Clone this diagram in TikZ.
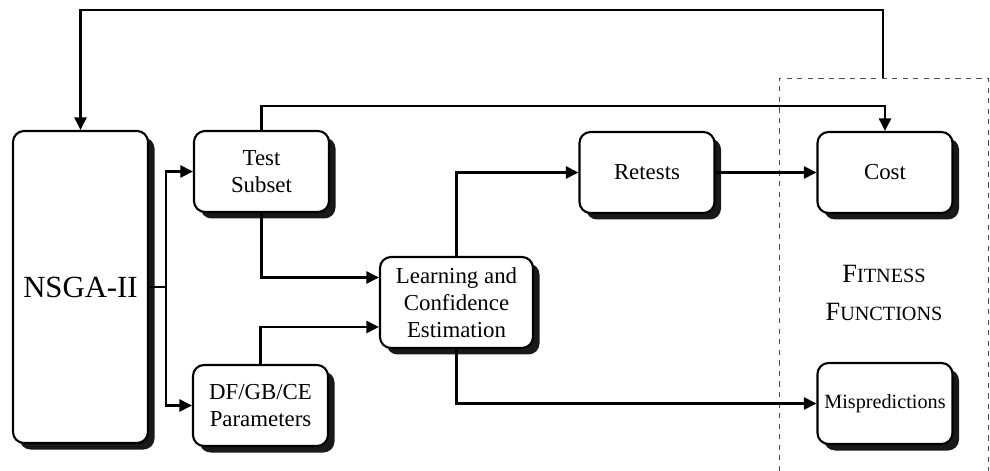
\documentclass[tikz,border=0pt]{standalone}
\usepackage{fontspec}
\setmainfont{Liberation Serif}
\usepackage{tikz}
\usetikzlibrary{arrows.meta,shadows}

\begin{document}
\begin{tikzpicture}[
    blk/.style={draw, line width=1.2pt, rounded corners=0.22cm, fill=white, align=center,
        minimum width=2.7cm, minimum height=1.62cm, inner sep=1pt,
        font=\fontsize{13}{15.5}\selectfont,
        drop shadow={shadow xshift=0.13cm, shadow yshift=-0.13cm, fill=black!90, opacity=1}},
    link/.style={line width=1.3pt},
    arr/.style={link, -{Triangle[length=0.25cm,width=0.24cm]}}
]
    \useasboundingbox (0,0) rectangle (19.8,-9.42);
    \node[blk, minimum height=6.24cm, font=\fontsize{17.5}{21}\selectfont] (nsga) at (1.61,-5.74) {NSGA-II};
    \node[blk] (test) at (5.23,-3.43) {Test\\Subset};
    \node[blk] (param) at (5.21,-8.11) {DF/GB/CE\\Parameters};
    \node[blk, minimum width=3.06cm, minimum height=1.82cm] (learn) at (9.13,-6.05) {Learning and\\Confidence\\Estimation};
    \node[blk] (retest) at (12.94,-3.45) {Retests};
    \node[blk] (cost) at (17.7,-3.45) {Cost};
    \node[blk, font=\fontsize{11.5}{13}\selectfont] (mispred) at (17.7,-8.07) {Mispredictions};
    \node[align=center, font=\fontsize{15}{18}\selectfont] (fit) at (17.68,-5.86)
        {F{\fontsize{11.5}{18}\selectfont ITNESS}\\[0.13cm]
         F{\fontsize{11.5}{18}\selectfont UNCTIONS}};
    \draw[dashed, black!70, line width=0.5pt] (15.58,-9.42) -- (15.58,-1.56) -- (19.76,-1.56) -- (19.76,-9.42);
    \coordinate (fb) at (17.66,-1.56);
    \coordinate (split) at (3.32,-5.74);
    \draw[arr] (fb) -- ++(0,1.36) -| (nsga.north);
    \draw[link] (nsga.east) -- (split);
    \draw[arr] (split) |- (test.west);
    \draw[arr] (split) |- (param.west);
    \draw[arr] (test.north) -- ++(0,0.48) -| (cost.north);
    \draw[arr] (test.south) |- ([yshift=0.5cm]learn.west);
    \draw[arr] (param.north) |- ([yshift=-0.49cm]learn.west);
    \draw[arr] (learn.north) |- (retest.west);
    \draw[arr] (retest) -- (cost);
    \draw[arr] (learn.south) |- (mispred.west);
\end{tikzpicture}
\end{document}
